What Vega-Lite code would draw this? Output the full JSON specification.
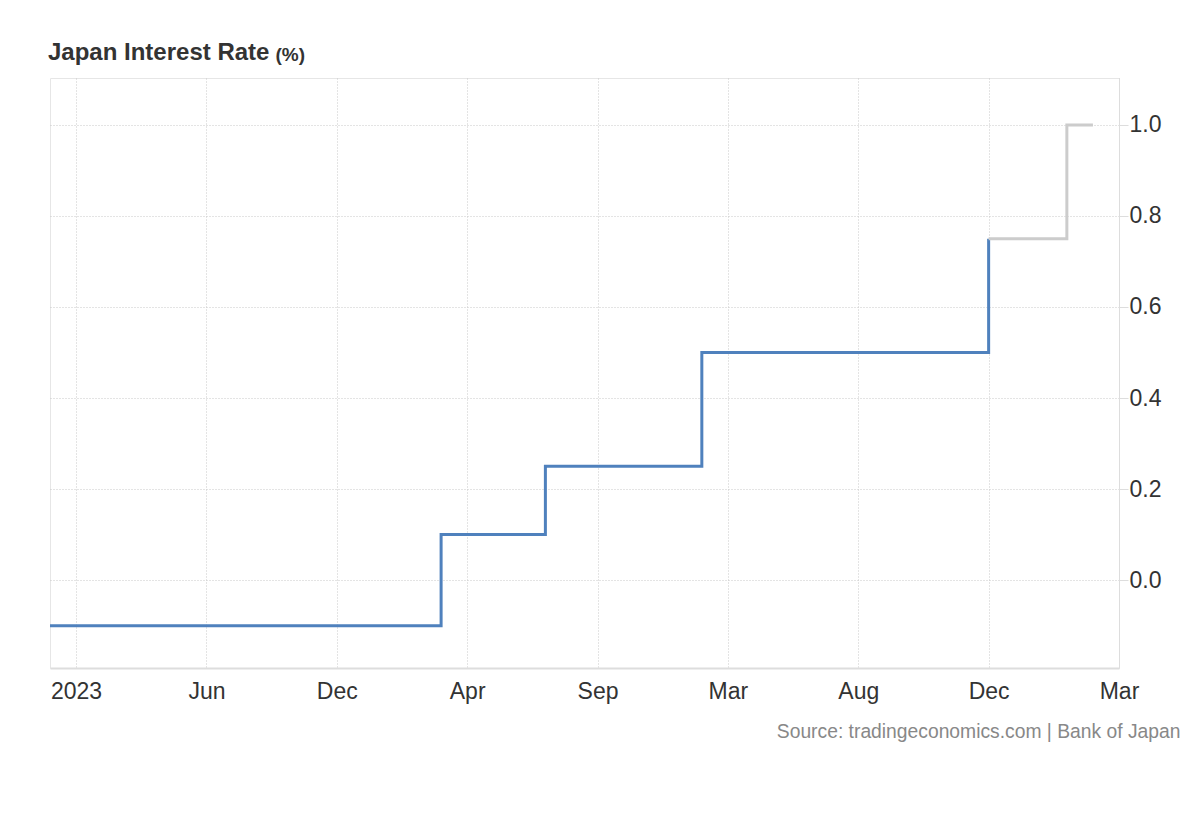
{
  "$schema": "https://vega.github.io/schema/vega-lite/v6.json",
  "width": 1069,
  "height": 590,
  "autosize": {"type": "none"},
  "padding": {"left": 50, "top": 78, "right": 81, "bottom": 152},
  "background": "white",
  "config": {"font": "Liberation Sans", "view": {"stroke": "#e6e6e6"}},
  "title": {"text": "Japan Interest Rate", "anchor": "start", "frame": "group", "fontSize": 24, "fontWeight": "bold", "color": "#333333", "offset": -20, "dx": -2},
  "data": {"values": [
    {"date": "2022-12-31", "rate": -0.1, "series": "Actual"},
    {"date": "2023-01-31", "rate": -0.1, "series": "Actual"},
    {"date": "2023-02-28", "rate": -0.1, "series": "Actual"},
    {"date": "2023-03-31", "rate": -0.1, "series": "Actual"},
    {"date": "2023-04-28", "rate": -0.1, "series": "Actual"},
    {"date": "2023-05-31", "rate": -0.1, "series": "Actual"},
    {"date": "2023-06-16", "rate": -0.1, "series": "Actual"},
    {"date": "2023-07-28", "rate": -0.1, "series": "Actual"},
    {"date": "2023-08-31", "rate": -0.1, "series": "Actual"},
    {"date": "2023-09-22", "rate": -0.1, "series": "Actual"},
    {"date": "2023-10-31", "rate": -0.1, "series": "Actual"},
    {"date": "2023-12-19", "rate": -0.1, "series": "Actual"},
    {"date": "2024-01-23", "rate": -0.1, "series": "Actual"},
    {"date": "2024-01-31", "rate": -0.1, "series": "Actual"},
    {"date": "2024-02-29", "rate": -0.1, "series": "Actual"},
    {"date": "2024-03-19", "rate": 0.1, "series": "Actual"},
    {"date": "2024-04-26", "rate": 0.1, "series": "Actual"},
    {"date": "2024-05-31", "rate": 0.1, "series": "Actual"},
    {"date": "2024-06-14", "rate": 0.1, "series": "Actual"},
    {"date": "2024-07-31", "rate": 0.25, "series": "Actual"},
    {"date": "2024-08-30", "rate": 0.25, "series": "Actual"},
    {"date": "2024-09-20", "rate": 0.25, "series": "Actual"},
    {"date": "2024-10-31", "rate": 0.25, "series": "Actual"},
    {"date": "2024-11-29", "rate": 0.25, "series": "Actual"},
    {"date": "2024-12-19", "rate": 0.25, "series": "Actual"},
    {"date": "2025-01-24", "rate": 0.5, "series": "Actual"},
    {"date": "2025-03-19", "rate": 0.5, "series": "Actual"},
    {"date": "2025-04-01", "rate": 0.5, "series": "Actual"},
    {"date": "2025-05-01", "rate": 0.5, "series": "Actual"},
    {"date": "2025-06-17", "rate": 0.5, "series": "Actual"},
    {"date": "2025-07-31", "rate": 0.5, "series": "Actual"},
    {"date": "2025-08-29", "rate": 0.5, "series": "Actual"},
    {"date": "2025-09-19", "rate": 0.5, "series": "Actual"},
    {"date": "2025-10-30", "rate": 0.5, "series": "Actual"},
    {"date": "2025-11-28", "rate": 0.5, "series": "Actual"},
    {"date": "2025-12-01", "rate": 0.5, "series": "Actual"},
    {"date": "2025-12-19", "rate": 0.75, "series": "Actual"},
    {"date": "2025-12-19", "rate": 0.75, "series": "Forecast"},
    {"date": "2025-12-31", "rate": 0.75, "series": "Forecast"},
    {"date": "2026-01-23", "rate": 0.75, "series": "Forecast"},
    {"date": "2026-01-31", "rate": 1.0, "series": "Forecast"},
    {"date": "2026-02-27", "rate": 1.0, "series": "Forecast"}
  ]},
  "mark": {"type": "line", "interpolate": "step-after", "strokeWidth": 3},
  "encoding": {
    "x": {
      "field": "date",
      "type": "ordinal",
      "scale": {"type": "point", "padding": 0, "domain": [
        "2022-12-31","2023-01-31","2023-02-28","2023-03-31","2023-04-28","2023-05-31","2023-06-16","2023-07-28","2023-08-31","2023-09-22","2023-10-31","2023-12-19","2024-01-23","2024-01-31","2024-02-29","2024-03-19","2024-04-26","2024-05-31","2024-06-14","2024-07-31","2024-08-30","2024-09-20","2024-10-31","2024-11-29","2024-12-19","2025-01-24","2025-03-19","2025-04-01","2025-05-01","2025-06-17","2025-07-31","2025-08-29","2025-09-19","2025-10-30","2025-11-28","2025-12-01","2025-12-19","2025-12-31","2026-01-23","2026-01-31","2026-02-27","2026-03-19"
      ]},
      "axis": {
        "values": ["2023-01-31","2023-06-16","2023-12-19","2024-04-26","2024-09-20","2025-03-19","2025-08-29","2025-12-19","2026-03-19"],
        "labelExpr": "datum.value == '2023-01-31' ? '2023' : utcFormat(toDate(datum.value), '%b')",
        "labelAngle": 0,
        "labelOverlap": false,
        "labelFontSize": 23,
        "labelColor": "#333333",
        "labelPadding": 12,
        "ticks": false,
        "domainColor": "#dddddd",
        "domainWidth": 2,
        "grid": true,
        "gridDash": [1, 2],
        "gridColor": "#c8c8c8",
        "title": "Source: tradingeconomics.com | Bank of Japan",
        "titleX": 1130,
        "titleY": 69,
        "titleAlign": "right",
        "titleBaseline": "alphabetic",
        "titleFontSize": 19.3,
        "titleFontWeight": "normal",
        "titleColor": "#888888"
      }
    },
    "y": {
      "field": "rate",
      "type": "quantitative",
      "scale": {"domain": [-0.193, 1.103], "nice": false, "zero": false},
      "axis": {
        "orient": "right",
        "values": [0, 0.2, 0.4, 0.6, 0.8, 1.0],
        "format": ".1f",
        "labelFontSize": 23,
        "labelColor": "#333333",
        "labelPadding": 1,
        "tickSize": 9,
        "tickColor": "#dddddd",
        "domainColor": "#dddddd",
        "grid": true,
        "gridDash": [1, 2],
        "gridColor": "#c8c8c8",
        "title": "(%)",
        "titleAngle": 0,
        "titleX": -844,
        "titleY": -18,
        "titleAlign": "left",
        "titleBaseline": "alphabetic",
        "titleFontSize": 19,
        "titleFontWeight": "bold",
        "titleColor": "#333333"
      }
    },
    "color": {
      "field": "series",
      "type": "nominal",
      "scale": {"domain": ["Actual", "Forecast"], "range": ["#4f81bd", "#cccccc"]},
      "legend": null
    }
  }
}
